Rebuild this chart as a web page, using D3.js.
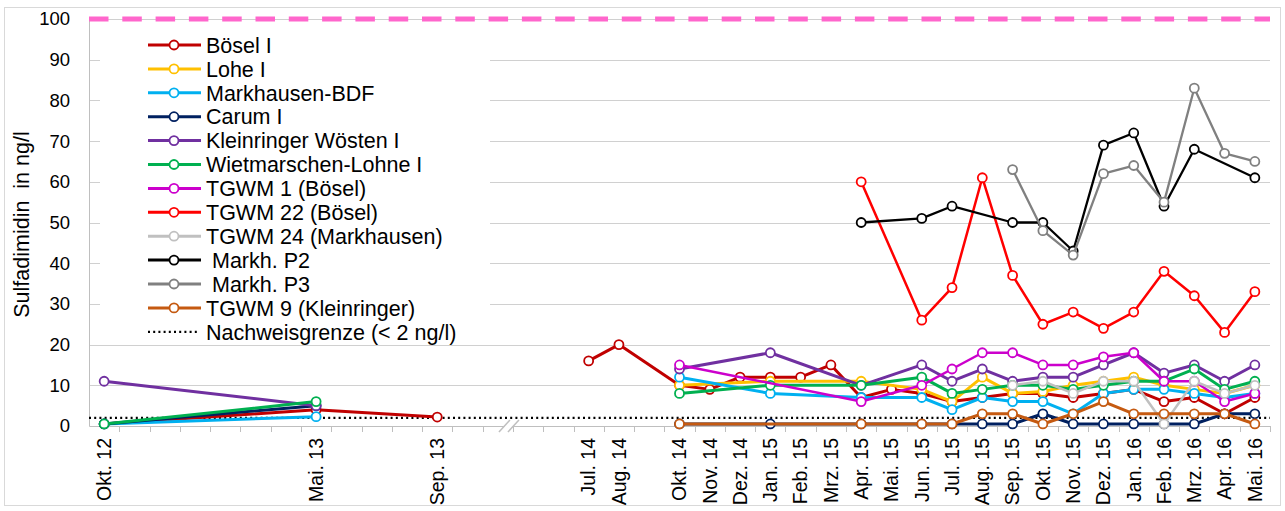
<!DOCTYPE html>
<html>
<head>
<meta charset="utf-8">
<script src="https://cdn.jsdelivr.net/npm/d3@7"></script>
<style>
  body { margin: 0; background: #fff; }
  text { font-family: Arial, "Liberation Sans", sans-serif; fill: #000; }
</style>
</head>
<body>
<svg id="chart" width="1285" height="511"></svg>
<script>
// ---- data -------------------------------------------------------------
const _ = null;
const gap = n => Array(n).fill(null);

// Axis slots (empty labels are unlabelled months on the axis)
const slotLabels = [
  "Okt. 12", "", "", "", "", "", "",
  "Mai. 13", "", "", "",
  "Sep. 13", "", "", "", "",
  "Jul. 14", "Aug. 14", "",
  "Okt. 14", "Nov. 14", "Dez. 14", "Jan. 15", "Feb. 15", "Mrz. 15", "Apr. 15",
  "Mai. 15", "Jun. 15", "Jul. 15", "Aug. 15", "Sep. 15", "Okt. 15", "Nov. 15",
  "Dez. 15", "Jan. 16", "Feb. 16", "Mrz. 16", "Apr. 16", "Mai. 16"
];
// Measurement campaigns; lines are not joined across campaigns
const campaigns = [[0, 11], [16, 38]];
const yTicks = [0, 10, 20, 30, 40, 50, 60, 70, 80, 90, 100];

const boeselI        = [0.5, ...gap(6), 4, ...gap(3), 2.2, ...gap(4), 16, 20, _,
                        10, 9, 12, 12, 12, 15, 7, 9, 8, 6, 7, 8, 8, 7, 8, 9, 6, 7, 3, 7];
const loheI          = [...gap(19), 10, _, _, 11, _, _, 11, _, 9, 6, 12, 8, 8.5, 10, 11, 12, 10, 9, 8, 10];
const markhausenBDF  = [0.5, ...gap(6), 2.3, ...gap(11),
                        12, _, _, 8, _, _, 7, _, 7, 4, 7, 6, 6, 3, 8, 9, 9, 8, 7, 8];
const carumI         = [0.5, ...gap(6), 5, ...gap(11),
                        0.5, _, _, 0.5, _, _, 0.5, _, 0.5, 0.5, 0.5, 0.5, 3, 0.5, 0.5, 0.5, 0.5, 0.5, 3, 3];
const kleinringerI   = [11, ...gap(6), 5, ...gap(11),
                        14, _, _, 18, _, _, 10, _, 15, 11, 14, 11, 12, 12, 15, 18, 13, 15, 11, 15];
const wietmarschenI  = [0.5, ...gap(6), 6, ...gap(11),
                        8, _, _, 10, _, _, 10, _, 12, 8, 9, 10, 10, 9, 10, 11, 11, 14, 9, 11];
const tgwm1          = [...gap(19), 15, _, _, _, _, _, 6, _, 10, 14, 18, 18, 15, 15, 17, 18, 11, 11, 6, 8];
const tgwm22         = [...gap(25), 60, _, 26, 34, 61, 37, 25, 28, 24, 28, 38, 32, 23, 33];
const tgwm24         = [...gap(30), 10, 11, 8, 11, 11, 0.5, 11, 8, 10];
const markhP2        = [...gap(25), 50, _, 51, 54, _, 50, 50, 43, 69, 72, 54, 68, _, 61];
const markhP3        = [...gap(30), 63, 48, 42, 62, 64, 55, 83, 67, 65];
const tgwm9          = [...gap(19), 0.5, _, _, _, _, _, 0.5, _, 0.5, 0.5, 3, 3, 0.5, 3, 6, 3, 3, 3, 3, 0.5];

const detectionLimit = 2;   // Nachweisgrenze
const thresholdValue = 100; // upper limit line

const series = [
  { name: "Bösel I",                values: boeselI,       color: "#c00000", width: 3 },
  { name: "Lohe I",                 values: loheI,         color: "#ffc000", width: 3 },
  { name: "Markhausen-BDF",         values: markhausenBDF, color: "#00b0f0", width: 3 },
  { name: "Carum I",                values: carumI,        color: "#002060", width: 3 },
  { name: "Kleinringer Wösten I",   values: kleinringerI,  color: "#7030a0", width: 3 },
  { name: "Wietmarschen-Lohne I",   values: wietmarschenI, color: "#00b050", width: 3 },
  { name: "TGWM 1 (Bösel)",         values: tgwm1,         color: "#cc00cc", width: 2.5 },
  { name: "TGWM 22 (Bösel)",        values: tgwm22,        color: "#ff0000", width: 2.5 },
  { name: "TGWM 24 (Markhausen)",   values: tgwm24,        color: "#c0c0c0", width: 2.5 },
  { name: " Markh. P2",             values: markhP2,       color: "#000000", width: 2.3 },
  { name: " Markh. P3",             values: markhP3,       color: "#808080", width: 2.3 },
  { name: "TGWM 9 (Kleinringer)",   values: tgwm9,         color: "#c55a11", width: 3 }
];

// ---- layout -----------------------------------------------------------
const svg = d3.select("#chart");
const plot = { left: 89, right: 1270, top: 19, bottom: 426 };

const x = d3.scaleBand().domain(d3.range(slotLabels.length)).range([plot.left, plot.right]);
const cx = i => x(i) + x.bandwidth() / 2;
const y = d3.scaleLinear().domain([0, 100]).range([plot.bottom, plot.top]);

svg.append("rect").attr("width", 1285).attr("height", 511).attr("fill", "#fff");
svg.append("rect").attr("x", 4.5).attr("y", 7.5).attr("width", 1276).attr("height", 498)
  .attr("fill", "none").attr("stroke", "#d9d9d9").attr("stroke-width", 1);

// gridlines
svg.append("g").selectAll("line").data(yTicks.filter(t => t > 0)).join("line")
  .attr("x1", plot.left).attr("x2", plot.right)
  .attr("y1", d => Math.round(y(d)) + 0.5).attr("y2", d => Math.round(y(d)) + 0.5)
  .attr("stroke", "#d0d0d0").attr("stroke-width", 1);

// y axis
const yAxis = d3.axisLeft(y).tickValues(yTicks).tickSize(0).tickPadding(19);
const gy = svg.append("g").attr("transform", `translate(${plot.left},0)`).call(yAxis);
gy.select(".domain").attr("stroke", "#bfbfbf");
gy.selectAll("text").style("font-size", "18.5px").style("font-family", "Arial, 'Liberation Sans', sans-serif");

// x axis
const xAxis = d3.axisBottom(x).tickFormat(i => slotLabels[i]).tickSize(0).tickPadding(10);
const gx = svg.append("g").attr("transform", `translate(0,${plot.bottom})`).call(xAxis);
gx.select(".domain").attr("stroke", "#bfbfbf");
gx.selectAll("text")
  .style("font-size", "19.5px").style("font-family", "Arial, 'Liberation Sans', sans-serif")
  .attr("text-anchor", "end")
  .attr("transform", "rotate(-90)")
  .attr("x", -12).attr("y", 0).attr("dy", "0.35em");
// tick marks between slots
const boundaries = d3.range(1, slotLabels.length + 1).map(i => plot.left + i * x.bandwidth());
svg.append("g").selectAll("line").data(boundaries).join("line")
  .attr("x1", d => Math.round(d) + 0.5).attr("x2", d => Math.round(d) + 0.5)
  .attr("y1", plot.bottom).attr("y2", plot.bottom + 6)
  .attr("stroke", "#bfbfbf");

// axis break between the campaigns
const breakX = (cx(campaigns[0][1]) + cx(campaigns[1][0])) / 2;
const brk = svg.append("g").attr("transform", `translate(${breakX},${plot.bottom})`);
brk.append("path").attr("d", "M-13,6 L-3,-6 L5,-6 L-5,6 Z").attr("fill", "#fff");
brk.append("line").attr("x1", -14).attr("y1", 6).attr("x2", -3).attr("y2", -6)
  .attr("stroke", "#bfbfbf").attr("stroke-width", 1.5);
brk.append("line").attr("x1", -5).attr("y1", 6).attr("x2", 6).attr("y2", -6)
  .attr("stroke", "#bfbfbf").attr("stroke-width", 1.5);

// y axis title
svg.append("text")
  .attr("transform", `translate(29,${(plot.top + plot.bottom) / 2 + 2}) rotate(-90)`)
  .attr("text-anchor", "middle")
  .style("font-size", "21.5px")
  .style("white-space", "pre")
  .text("Sulfadimidin  in ng/l");

// threshold line at 100
svg.append("line")
  .attr("x1", plot.left).attr("x2", plot.right)
  .attr("y1", y(thresholdValue)).attr("y2", y(thresholdValue))
  .attr("stroke", "#ff66cc").attr("stroke-width", 5).attr("stroke-dasharray", "19.5 13.8");

// detection limit
svg.append("line")
  .attr("x1", plot.left).attr("x2", plot.right)
  .attr("y1", y(detectionLimit)).attr("y2", y(detectionLimit))
  .attr("stroke", "#000").attr("stroke-width", 2.2).attr("stroke-dasharray", "2 3.2");

// ---- legend -----------------------------------------------------------
const legend = svg.append("g");
legend.append("rect").attr("x", 100).attr("y", 30).attr("width", 390).attr("height", 311).attr("fill", "#fff");
const rowH = 23.9, legendTop = 45;
series.forEach((s, k) => {
  const ly = legendTop + k * rowH;
  legend.append("line").attr("x1", 148).attr("x2", 201).attr("y1", ly).attr("y2", ly)
    .attr("stroke", s.color).attr("stroke-width", 3);
  legend.append("circle").attr("cx", 174).attr("cy", ly).attr("r", 4.5)
    .attr("fill", "#fff").attr("stroke", s.color).attr("stroke-width", 1.8);
  legend.append("text").attr("x", 206).attr("y", ly).attr("dy", "0.36em")
    .style("font-size", "21.5px").style("white-space", "pre").text(s.name);
});
{
  const ly = legendTop + series.length * rowH;
  legend.append("line").attr("x1", 148).attr("x2", 198).attr("y1", ly).attr("y2", ly)
    .attr("stroke", "#000").attr("stroke-width", 2.2).attr("stroke-dasharray", "2 3.2");
  legend.append("text").attr("x", 206).attr("y", ly).attr("dy", "0.36em")
    .style("font-size", "21.5px").text("Nachweisgrenze (< 2 ng/l)");
}

// ---- series -----------------------------------------------------------
const line = d3.line().x(d => cx(d.i)).y(d => y(d.v));
const seriesLayer = svg.append("g");
series.forEach(s => {
  const g = seriesLayer.append("g");
  const pts = s.values.map((v, i) => ({ i, v })).filter(d => d.v !== null);
  campaigns.forEach(([a, b]) => {
    const seg = pts.filter(d => d.i >= a && d.i <= b);
    if (seg.length > 1) {
      g.append("path").attr("d", line(seg)).attr("fill", "none")
        .attr("stroke", s.color).attr("stroke-width", s.width)
        .attr("stroke-linejoin", "round").attr("stroke-linecap", "round");
    }
  });
  g.selectAll("circle").data(pts).join("circle")
    .attr("cx", d => cx(d.i)).attr("cy", d => y(d.v)).attr("r", 4.5)
    .attr("fill", "#fff").attr("stroke", s.color).attr("stroke-width", 1.8);
});
</script>
</body>
</html>
